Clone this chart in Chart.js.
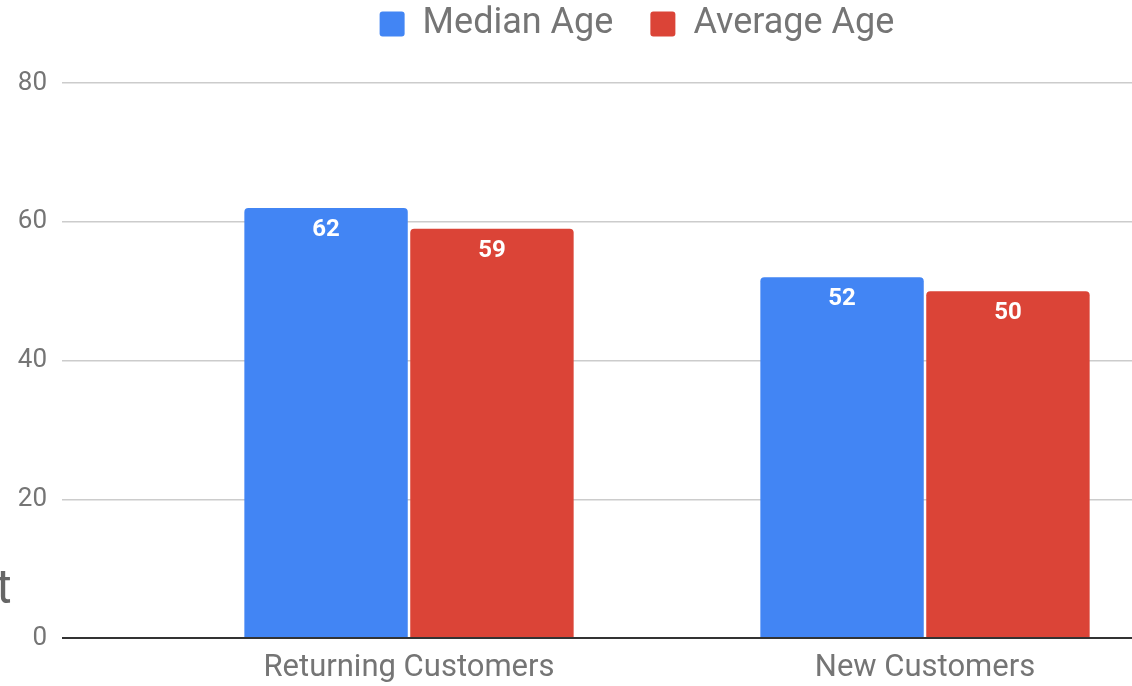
<!DOCTYPE html>
<html>
<head>
<meta charset="utf-8">
<title>Median vs Average Age</title>
<script src="https://cdn.jsdelivr.net/npm/chart.js@4.4.1/dist/chart.umd.min.js"></script>
<style>
  html, body { margin: 0; padding: 0; background: #fff; }
  #wrap { position: relative; width: 1132px; height: 686px; overflow: hidden; }
  #chart { position: absolute; left: 0; top: 0; }
  .stray { position: absolute; left: -4px; top: 558px; font: 48px Roboto, sans-serif; color: #666; }
</style>
</head>
<body>
<div id="wrap">
  <canvas id="chart" width="1183" height="686"></canvas>
  <span class="stray">t</span>
</div>
<script>
// chart data
const categories = ['Returning Customers', 'New Customers'];
const medianAge = [62, 52];
const averageAge = [59, 50];
const yTicks = [0, 20, 40, 60, 80];

const GREY = '#757575';

// white value labels just inside the top of each bar
const barValueLabels = {
    id: 'barValueLabels',
    afterDatasetsDraw(chart) {
        const ctx = chart.ctx;
        ctx.save();
        ctx.font = 'bold 24px Roboto';
        ctx.fillStyle = '#fff';
        ctx.textAlign = 'center';
        ctx.textBaseline = 'middle';
        chart.data.datasets.forEach((ds, i) => {
            chart.getDatasetMeta(i).data.forEach((bar, j) => {
                ctx.fillText(ds.data[j], bar.x, bar.y + 22);
            });
        });
        ctx.restore();
    }
};

// the screenshot is a crop, so the legend sits off the canvas centre
const legendNudge = {
    id: 'legendNudge',
    afterLayout(chart) {
        const lg = chart.legend;
        const dx = 637 - (lg.left + lg.right) / 2;
        const dy = -31;
        lg.left += dx; lg.right += dx;
        lg.top += dy; lg.bottom += dy;
    }
};

const lineColor = c => (c.tick && c.tick.value === 0 ? '#333333' : '#cccccc');
const lineWidth = c => (c.tick && c.tick.value === 0 ? 2 : 1.5);

new Chart(document.getElementById('chart'), {
    type: 'bar',
    data: {
        labels: categories,
        datasets: [{
            label: 'Median Age',
            data: medianAge,
            backgroundColor: '#4285f4',
            borderRadius: 4,
            borderWidth: 0,
        }, {
            label: 'Average Age',
            data: averageAge,
            backgroundColor: '#db4437',
            borderRadius: 4,
            borderWidth: 0,
        }]
    },
    options: {
        responsive: false,
        animation: false,
        devicePixelRatio: 1,
        categoryPercentage: 0.643,
        barPercentage: 0.985,
        layout: { padding: { top: 0, left: 18, right: 0, bottom: 0 } },
        plugins: {
            legend: {
                position: 'top',
                labels: {
                    boxWidth: 25,
                    boxHeight: 25,
                    padding: 37,
                    color: GREY,
                    useBorderRadius: true,
                    borderRadius: 3,
                    font: { family: 'Roboto', size: 36 },
                }
            },
            tooltip: { enabled: false },
        },
        scales: {
            x: {
                afterFit: scale => { scale.height = 48; },
                grid: { display: false, drawTicks: false },
                border: { display: false },
                ticks: { padding: 12, color: GREY, font: { family: 'Roboto', size: 31 } },
            },
            y: {
                min: 0,
                max: 80,
                afterBuildTicks: scale => { scale.ticks = yTicks.map(v => ({ value: v })); },
                afterFit: scale => {
                    scale.width = 133;
                    scale.paddingTop = 81;
                    scale.paddingBottom = 0;
                },
                border: { display: false },
                grid: {
                    color: lineColor,
                    tickColor: lineColor,
                    lineWidth: lineWidth,
                    tickWidth: lineWidth,
                    tickLength: 89,
                },
                ticks: { padding: 15, color: GREY, font: { family: 'Roboto', size: 26 } },
            }
        }
    },
    plugins: [barValueLabels, legendNudge]
});
</script>
</body>
</html>
